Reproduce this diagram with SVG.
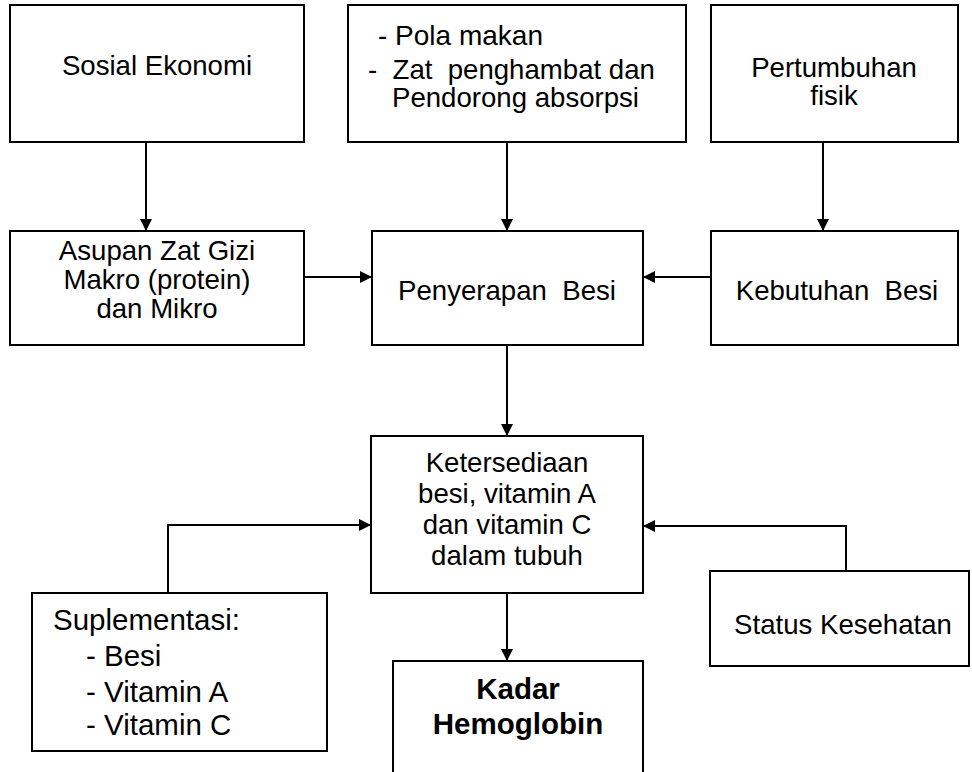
<svg xmlns="http://www.w3.org/2000/svg" width="972" height="772" viewBox="0 0 972 772">
<defs>
<marker id="ah" markerWidth="12" markerHeight="12" refX="12" refY="6" orient="auto" markerUnits="userSpaceOnUse">
<path d="M0,0 L12,6 L0,12 Z" fill="#000"/>
</marker>
<style>
.box{fill:#fff;stroke:#000;stroke-width:2}
.t{font-family:"Liberation Sans",Arial,sans-serif;font-size:27.6px;fill:#000}
.c{text-anchor:middle}
.b{font-weight:bold;font-size:29.5px}
.s{font-size:29.5px}
.ln{fill:none;stroke:#000;stroke-width:2;marker-end:url(#ah)}
</style>
</defs>
<rect width="972" height="772" fill="#fff"/>
<g id="connectors">
<path class="ln" d="M146,142 V231"/>
<path class="ln" d="M507,142 V231"/>
<path class="ln" d="M823,142 V231"/>
<path class="ln" d="M304,277 H372"/>
<path class="ln" d="M711,277 H643"/>
<path class="ln" d="M507,345 V436"/>
<path class="ln" d="M168,593 V525 H371"/>
<path class="ln" d="M846,571 V526 H643"/>
<path class="ln" d="M507,593 V661"/>
</g>
<g id="sosial">
<rect class="box" x="10" y="5" width="294" height="137"/>
<text class="t c" x="157" y="75">Sosial Ekonomi</text>
</g>
<g id="pola">
<rect class="box" x="348" y="5" width="338" height="137"/>
<text class="t" x="378" y="45" style="font-size:28px">- Pola makan</text>
<text class="t" x="368" y="79" xml:space="preserve">-  Zat  penghambat dan</text>
<text class="t" x="392" y="107">Pendorong absorpsi</text>
</g>
<g id="pertumbuhan">
<rect class="box" x="711" y="5" width="247" height="137"/>
<text class="t c" x="834" y="77">Pertumbuhan</text>
<text class="t c" x="834" y="105">fisik</text>
</g>
<g id="asupan">
<rect class="box" x="10" y="231" width="294" height="114"/>
<text class="t c" x="157" y="260">Asupan Zat Gizi</text>
<text class="t c" x="157" y="289">Makro (protein)</text>
<text class="t c" x="157" y="318">dan Mikro</text>
</g>
<g id="penyerapan">
<rect class="box" x="372" y="231" width="271" height="114"/>
<text class="t c" x="507" y="300" xml:space="preserve">Penyerapan  Besi</text>
</g>
<g id="kebutuhan">
<rect class="box" x="711" y="231" width="247" height="114"/>
<text class="t c" x="837" y="300" xml:space="preserve">Kebutuhan  Besi</text>
</g>
<g id="ketersediaan">
<rect class="box" x="371" y="436" width="272" height="157"/>
<text class="t c" x="507" y="472">Ketersediaan</text>
<text class="t c" x="507" y="503">besi, vitamin A</text>
<text class="t c" x="507" y="534">dan vitamin C</text>
<text class="t c" x="507" y="565">dalam tubuh</text>
</g>
<g id="suplementasi">
<rect class="box" x="32" y="593" width="295" height="158"/>
<text class="t s" x="53" y="630">Suplementasi:</text>
<text class="t s" x="86" y="666">- Besi</text>
<text class="t s" x="86" y="702">- Vitamin A</text>
<text class="t s" x="86" y="735">- Vitamin C</text>
</g>
<g id="status">
<rect class="box" x="710" y="571" width="259" height="95"/>
<text class="t c" x="843" y="634">Status Kesehatan</text>
</g>
<g id="kadar">
<path class="box" d="M393,772 V661 H643 V772"/>
<text class="t c b" x="518" y="699">Kadar</text>
<text class="t c b" x="518" y="734">Hemoglobin</text>
</g>
</svg>
